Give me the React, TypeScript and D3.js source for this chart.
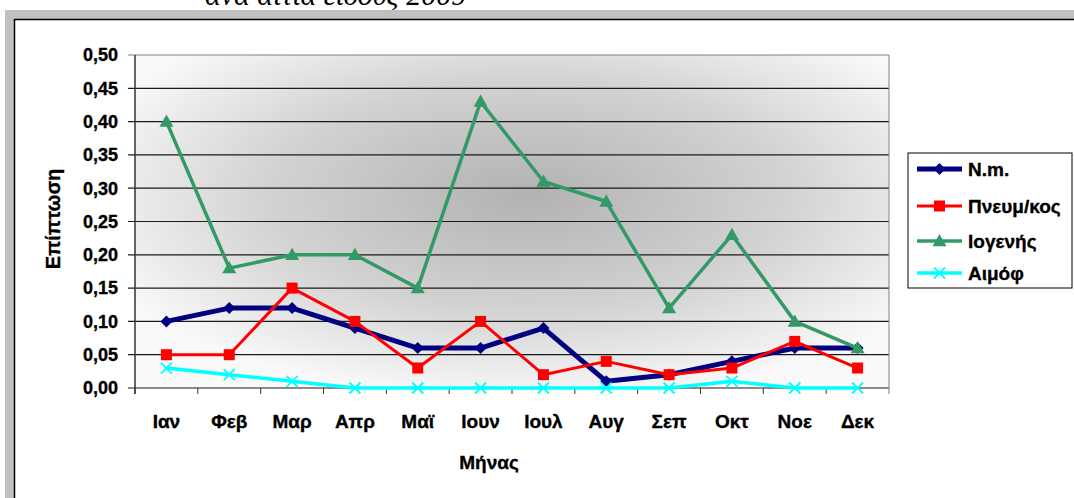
import React from "react";
import * as d3 from "d3";

const months = ["Ιαν", "Φεβ", "Μαρ", "Απρ", "Μαϊ", "Ιουν", "Ιουλ", "Αυγ", "Σεπ", "Οκτ", "Νοε", "Δεκ"];
const nm = [0.10, 0.12, 0.12, 0.09, 0.06, 0.06, 0.09, 0.01, 0.02, 0.04, 0.06, 0.06];
const pneum = [0.05, 0.05, 0.15, 0.10, 0.03, 0.10, 0.02, 0.04, 0.02, 0.03, 0.07, 0.03];
const iog = [0.40, 0.18, 0.20, 0.20, 0.15, 0.43, 0.31, 0.28, 0.12, 0.23, 0.10, 0.06];
const aim = [0.03, 0.02, 0.01, 0, 0, 0, 0, 0, 0, 0.01, 0, 0];
const yTicks = [0, 0.05, 0.1, 0.15, 0.2, 0.25, 0.3, 0.35, 0.4, 0.45, 0.5];

const seriesList = [
  { name: "N.m.", values: nm, color: "#000080", width: 5, marker: "diamond" },
  { name: "Πνευμ/κος", values: pneum, color: "#ff0000", width: 3, marker: "square" },
  { name: "Ιογενής", values: iog, color: "#339966", width: 3.5, marker: "triangle" },
  { name: "Αιμόφ", values: aim, color: "#00ffff", width: 3.5, marker: "x" },
];

const W = 1074, H = 498;
const plot = { left: 135, right: 889, top: 55, bottom: 388 };
const font = "Arial, 'Liberation Sans', sans-serif";
const heavy = { stroke: "#000", strokeWidth: 0.35 };

function Marker({ type, x, y, color }: { type: string; x: number; y: number; color: string }) {
  if (type === "diamond") {
    const s = 6;
    return <path d={`M${x},${y - s}L${x + s},${y}L${x},${y + s}L${x - s},${y}Z`} fill={color} />;
  }
  if (type === "square") {
    const s = 5.5;
    return <rect x={x - s} y={y - s} width={2 * s} height={2 * s} fill={color} />;
  }
  if (type === "triangle") {
    const s = 7;
    return <path d={`M${x},${y - s}L${x + s},${y + s * 0.75}L${x - s},${y + s * 0.75}Z`} fill={color} />;
  }
  const s = 5.5;
  return (
    <path d={`M${x - s},${y - s}L${x + s},${y + s}M${x - s},${y + s}L${x + s},${y - s}`} stroke={color} strokeWidth={1.8} fill="none" />
  );
}

export default function App() {
  const x = d3.scaleBand<string>().domain(months).range([plot.left, plot.right]);
  const y = d3.scaleLinear().domain([0, 0.5]).range([plot.bottom, plot.top]);
  const cx = (m: string) => (x(m) as number) + x.bandwidth() / 2;
  const fmt = (v: number) => d3.format(".2f")(v).replace(".", ",");
  const line = (vals: number[]) =>
    d3.line<number>().x((_, i) => cx(months[i])).y((v) => y(v))(vals) as string;

  const legendX = 908, legendY = 153;
  const legendRows = [169, 206, 241, 273];

  return (
    <div style={{ position: "absolute", left: 0, top: 0 }}>
      <svg width={W} height={H} style={{ display: "block" }}>
        <defs>
          <radialGradient id="bg" cx={0.52} cy={0.42} r={0.62} fx={0.52} fy={0.42}>
            <stop offset="0%" stopColor="#b2b2b2" />
            <stop offset="55%" stopColor="#d2d2d2" />
            <stop offset="100%" stopColor="#f9f9f9" />
          </radialGradient>
        </defs>
        <rect x={0} y={0} width={W} height={H} fill="#ffffff" />
        {/* cut-off title */}
        <text x={205} y={5} fontFamily="'Liberation Serif', 'Times New Roman', serif" fontStyle="italic" fontSize={30} fill="#000">
          ανά αιτία είδους 2009
        </text>
        {/* outer gray frame */}
        <rect x={5} y={10} width={W - 5} height={9} fill="#c0c0c0" />
        <rect x={5} y={10} width={9} height={H - 10} fill="#c0c0c0" />
        <rect x={14} y={19} width={W - 14} height={H - 19} fill="#ffffff" />
        <line x1={14} y1={19.5} x2={W} y2={19.5} stroke="#000" strokeWidth={1.5} />
        <line x1={14.5} y1={19} x2={14.5} y2={H} stroke="#000" strokeWidth={1.5} />

        {/* plot background */}
        <rect x={plot.left} y={plot.top} width={plot.right - plot.left} height={plot.bottom - plot.top} fill="url(#bg)" />
        {/* gridlines */}
        {yTicks.map((t) => (
          <line key={t} x1={plot.left - 7} x2={plot.right} y1={y(t)} y2={y(t)} stroke={t === 0.5 ? "#808080" : "#1a1a1a"} strokeWidth={1.2} />
        ))}
        {/* right border */}
        <line x1={plot.right} x2={plot.right} y1={plot.top} y2={plot.bottom + 6} stroke="#808080" strokeWidth={1} />
        {/* y axis */}
        <line x1={plot.left} x2={plot.left} y1={plot.top} y2={plot.bottom + 6} stroke="#333" strokeWidth={1.5} />
        {/* x ticks */}
        {months.map((m) => (
          <line key={m} x1={x(m) as number} x2={x(m) as number} y1={plot.bottom} y2={plot.bottom + 6} stroke="#333" strokeWidth={1} />
        ))}
        {/* y tick labels */}
        {yTicks.map((t) => (
          <text key={t} x={plot.left - 17} y={y(t)} dy="0.35em" textAnchor="end" fontFamily={font} fontWeight="bold" fontSize={18} fill="#000" {...heavy}>
            {fmt(t)}
          </text>
        ))}
        {/* x tick labels */}
        {months.map((m) => (
          <text key={m} x={cx(m)} y={421} dy="0.35em" textAnchor="middle" fontFamily={font} fontWeight="bold" fontSize={19} fill="#000" {...heavy}>
            {m}
          </text>
        ))}
        {/* axis titles */}
        <text x={489} y={462} dy="0.35em" textAnchor="middle" fontFamily={font} fontWeight="bold" fontSize={19} fill="#000" {...heavy}>
          Μήνας
        </text>
        <text transform={`translate(53,219) rotate(-90)`} dy="0.35em" textAnchor="middle" fontFamily={font} fontWeight="bold" fontSize={20} fill="#000" {...heavy}>
          Επίπτωση
        </text>

        {/* series */}
        {seriesList.map((s) => (
          <g key={s.name}>
            <path d={line(s.values)} fill="none" stroke={s.color} strokeWidth={s.width} strokeLinejoin="round" />
            {s.values.map((v, i) => (
              <Marker key={i} type={s.marker} x={cx(months[i])} y={y(v)} color={s.color} />
            ))}
          </g>
        ))}

        {/* legend */}
        <rect x={legendX} y={legendY} width={164} height={135} fill="#fff" stroke="#000" strokeWidth={1} />
        {seriesList.map((s, i) => (
          <g key={s.name}>
            <line x1={917} x2={962} y1={legendRows[i]} y2={legendRows[i]} stroke={s.color} strokeWidth={s.width} />
            <Marker type={s.marker} x={939.5} y={legendRows[i]} color={s.color} />
            <text x={968} y={legendRows[i]} dy="0.35em" fontFamily={font} fontWeight="bold" fontSize={19} fill="#000" {...heavy}>
              {s.name}
            </text>
          </g>
        ))}
      </svg>
    </div>
  );
}
